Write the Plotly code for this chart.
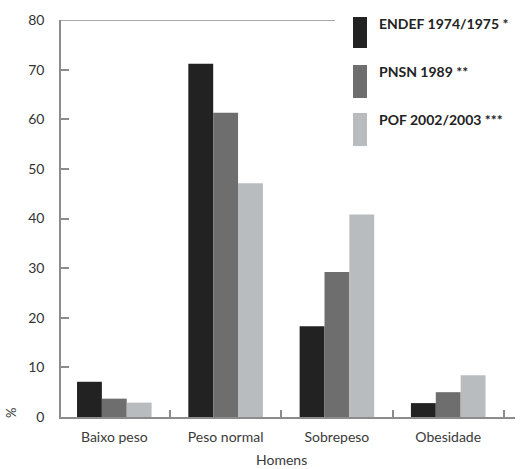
import plotly.graph_objects as go

categories = ["Baixo peso", "Peso normal", "Sobrepeso", "Obesidade"]
series_names = ["ENDEF 1974/1975 *", "PNSN 1989 **", "POF 2002/2003 ***"]
endef = [7.1, 71.2, 18.3, 2.8]
pnsn = [3.7, 61.3, 29.2, 5.0]
pof = [2.9, 47.1, 40.8, 8.4]
colors = ["#222222", "#6e6e6e", "#b9bcbf"]

W, H = 520, 469
L, R, T, B = 61, 5, 20, 52
pw, ph = W - L - R, H - T - B


def px_x(x):
    # pixel -> paper
    return (x - L) / pw


def px_y(y):
    return (H - B - y) / ph


fig = go.Figure()
for name, vals, col in zip(series_names, [endef, pnsn, pof], colors):
    fig.add_trace(go.Bar(x=categories, y=vals, name=name, marker_color=col,
                         marker_line_width=0, showlegend=False))

font = "Lato, 'Open Sans', sans-serif"
fig.update_layout(
    width=W, height=H,
    margin=dict(l=L, r=R, t=T, b=B),
    plot_bgcolor="white", paper_bgcolor="white",
    barmode="group", bargap=0.33, bargroupgap=0,
    font=dict(family=font, size=12, color="#333333"),
)
fig.update_xaxes(
    range=[-0.479, 3.6], showline=True, linecolor="#8c8c8c", linewidth=1.5,
    ticks="inside", tickson="boundaries", ticklen=7, tickcolor="#8c8c8c", tickwidth=1.5,
    showgrid=False, ticklabelstandoff=6, tickfont=dict(size=14, color="#3a3a3a"),
)
fig.update_yaxes(
    range=[0, 80], tickvals=[0, 10, 20, 30, 40, 50, 60, 70, 80], showline=True,
    linecolor="#8c8c8c", linewidth=1.5, ticks="inside", ticklen=8, tickcolor="#8c8c8c",
    tickwidth=1.5, showgrid=False, zeroline=False, ticklabelstandoff=12,
    tickfont=dict(size=14, color="#333333"),
)

# top line at 80
fig.add_shape(type="line", xref="paper", yref="y", x0=0, x1=px_x(335), y0=80, y1=80,
              line=dict(color="#8c8c8c", width=1.5))

# custom legend
rects = [(17, 48), (65, 98), (113, 146)]
for (y0, y1), name, col in zip(rects, series_names, colors):
    fig.add_shape(type="rect", xref="paper", yref="paper", x0=px_x(353), x1=px_x(367),
                  y0=px_y(y1), y1=px_y(y0), fillcolor=col, line_width=0)
    fig.add_annotation(xref="paper", yref="paper", x=px_x(377), y=px_y(y0 + 6),
                       text="<b>%s</b>" % name, showarrow=False, xanchor="left",
                       yanchor="middle", font=dict(size=14, color="#222222"))

fig.add_annotation(xref="x", yref="paper", x=1.5, y=px_y(459), text="Homens",
                   showarrow=False, xanchor="center", yanchor="middle",
                   font=dict(size=14, color="#3a3a3a"))
fig.add_annotation(xref="paper", yref="paper", x=px_x(11), y=px_y(413), text="%",
                   showarrow=False, textangle=-90, xanchor="center", yanchor="middle",
                   font=dict(size=13, color="#333333"))

# drop the default body margin so the figure fills the window
fig.write_html("out.html", config={"displayModeBar": False},
               post_script="document.body.style.margin='0';")
